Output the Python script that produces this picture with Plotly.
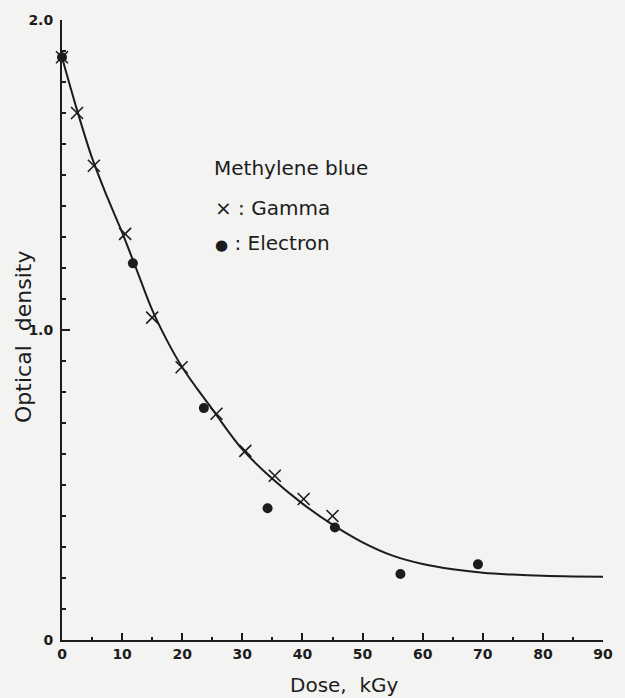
import plotly.graph_objects as go

# Data
gamma_dose = [0, 2.5, 5.3, 10.5, 15.0, 19.9, 25.7, 30.5, 35.4, 40.2, 45.0]
gamma_od = [1.88, 1.70, 1.53, 1.31, 1.04, 0.88, 0.73, 0.61, 0.53, 0.455, 0.40]

electron_dose = [0, 11.8, 23.6, 34.2, 45.4, 56.3, 69.2]
electron_od = [1.88, 1.215, 0.748, 0.425, 0.363, 0.213, 0.244]

fit_dose = [0, 2.5, 5, 7.5, 10, 12.5, 15, 17.5, 20, 22.5, 25, 27.5, 30, 35, 40, 45,
            50, 55, 60, 65, 70, 75, 80, 85, 90]
fit_od = [1.88, 1.71, 1.555, 1.43, 1.315, 1.19, 1.065, 0.965, 0.88, 0.81, 0.745, 0.677, 0.615,
          0.52, 0.44, 0.372, 0.315, 0.272, 0.245, 0.228, 0.217, 0.211, 0.207, 0.205, 0.204]

x_tickvals = [0, 10, 20, 30, 40, 50, 60, 70, 80, 90]
x_ticktext = ["0", "10", "20", "30", "40", "50", "60", "70", "80", "90"]
y_tickvals = [0, 1.0, 2.0]
y_ticktext = ["0", "1.0", "2.0"]

ink = "#1c1c1c"
bg = "#f3f3f1"
font_family = "DejaVu Sans"

fig = go.Figure()
fig.add_trace(go.Scatter(x=fit_dose, y=fit_od, mode="lines", line=dict(color=ink, width=2, shape="spline", smoothing=1.0),
                         hoverinfo="skip", cliponaxis=False))
fig.add_trace(go.Scatter(x=gamma_dose, y=gamma_od, mode="markers",
                         marker=dict(symbol="x-thin", size=12, line=dict(color=ink, width=1.6)),
                         cliponaxis=False))
fig.add_trace(go.Scatter(x=electron_dose, y=electron_od, mode="markers",
                         marker=dict(symbol="circle", size=10, color=ink),
                         cliponaxis=False))

fig.update_layout(
    width=625, height=698,
    margin=dict(l=62, r=12, t=16, b=58),
    paper_bgcolor=bg, plot_bgcolor=bg,
    showlegend=False,
    font=dict(family=font_family, color=ink),
)
fig.update_xaxes(range=[0, 90], showgrid=False, zeroline=False,
                 showline=True, linecolor=ink, linewidth=2,
                 tickvals=x_tickvals, ticktext=x_ticktext,
                 ticks="inside", ticklen=7, tickwidth=1.5, tickcolor=ink,
                 minor=dict(dtick=5, ticks="inside", ticklen=3, tickwidth=1.5, tickcolor=ink),
                 tickfont=dict(family=font_family, size=14, color=ink, weight="bold"))
fig.update_yaxes(range=[0, 2.0], showgrid=False, zeroline=False,
                 showline=True, linecolor=ink, linewidth=2,
                 tickvals=y_tickvals, ticktext=y_ticktext,
                 ticks="inside", ticklen=8, tickwidth=1.5, tickcolor=ink,
                 ticklabelstandoff=4,
                 minor=dict(dtick=0.1, ticks="inside", ticklen=4, tickwidth=1.5, tickcolor=ink),
                 tickfont=dict(family=font_family, size=14, color=ink, weight="bold"))

fig.add_annotation(text="Dose,  kGy", xref="paper", yref="paper", x=0.522, y=-0.072,
                   xanchor="center", yanchor="middle", showarrow=False,
                   font=dict(size=20, family=font_family, color=ink))
fig.add_annotation(text="Optical  density", xref="paper", yref="paper", x=-0.07, y=0.489,
                   xanchor="center", yanchor="middle", textangle=-90, showarrow=False,
                   font=dict(size=22, family=font_family, color=ink))
fig.add_annotation(text="Methylene blue", xref="paper", yref="paper", x=0.277, y=0.761,
                   xanchor="left", yanchor="middle", showarrow=False,
                   font=dict(size=20, family=font_family, color=ink))
fig.add_annotation(text="× : Gamma", xref="paper", yref="paper", x=0.280, y=0.697,
                   xanchor="left", yanchor="middle", showarrow=False,
                   font=dict(size=20, family=font_family, color=ink))
fig.add_annotation(text="<span style='font-size:15px'>●</span> : Electron", xref="paper", yref="paper",
                   x=0.280, y=0.641, xanchor="left", yanchor="middle", showarrow=False,
                   font=dict(size=20, family=font_family, color=ink))

fig.write_html("out.html")
